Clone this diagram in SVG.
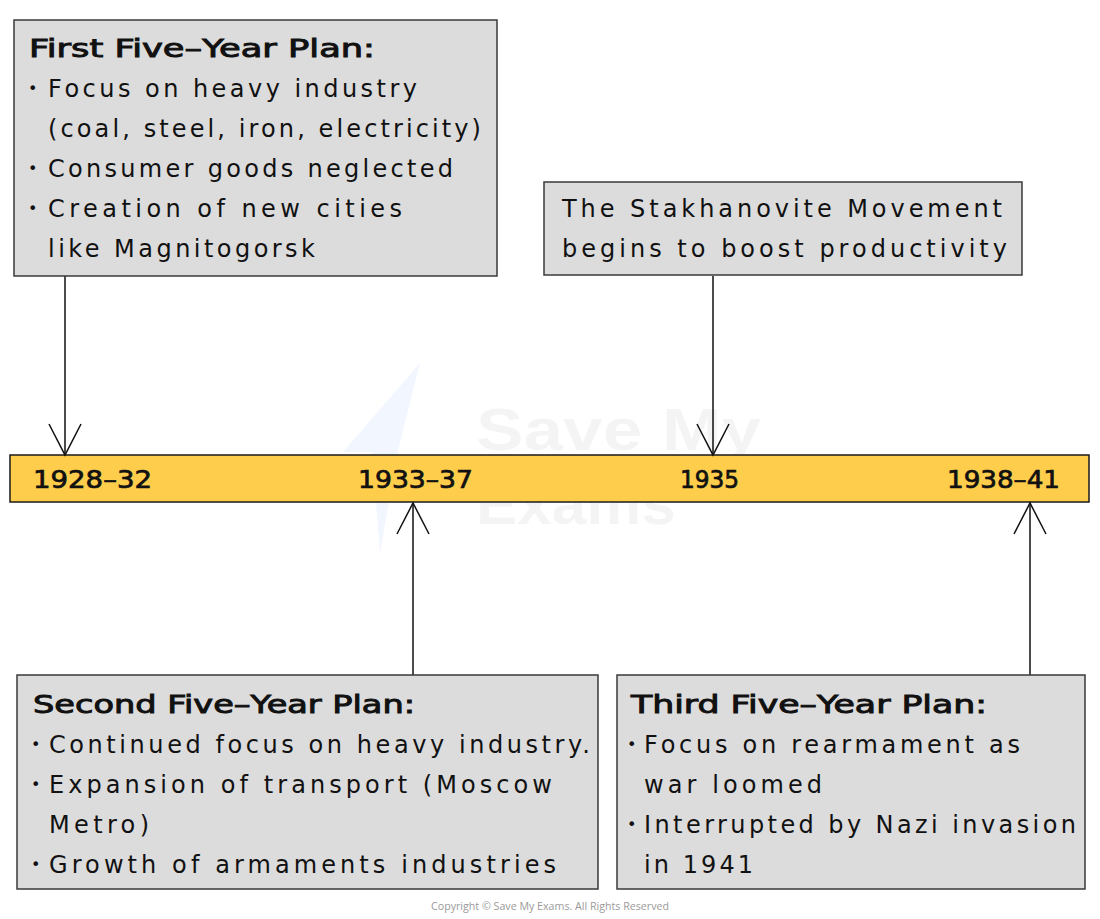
<svg xmlns="http://www.w3.org/2000/svg" width="1100" height="919" viewBox="0 0 1100 919">
<style>
.box{fill:#dcdcdc;stroke:#3a3a3a;stroke-width:1.5}
.bar{fill:#fdcd4b;stroke:#1a1a1a;stroke-width:1.5}
.t{font-family:"DejaVu Sans","Liberation Sans",Arial,sans-serif;font-size:24px;fill:#111}
.b{stroke:#111;stroke-width:0.9}
.bul{font-family:"DejaVu Sans","Liberation Sans",Arial,sans-serif;font-size:16px;fill:#111}
.yr{font-family:"DejaVu Sans","Liberation Sans",Arial,sans-serif;font-size:24px;fill:#111;stroke:#111;stroke-width:0.7}
.con{stroke:#111;stroke-width:1.5;fill:none}
.wm{font-family:"Liberation Sans",Arial,sans-serif;font-weight:bold;font-size:60px;fill:#000;fill-opacity:0.045}
.copy{font-family:"Open Sans","Liberation Sans",sans-serif;font-size:10px;fill:#9a9a9a}
</style>
<defs>
<marker id="ah" markerUnits="userSpaceOnUse" markerWidth="34" markerHeight="36" refX="32" refY="17" orient="auto">
<path d="M1,1 L32,17 L1,33" fill="none" stroke="#111" stroke-width="1.5"/>
</marker>
</defs>
<rect width="1100" height="919" fill="#ffffff"/>

<g id="watermark">
<polygon points="420,363 343,452 372,452 380,553 398,450" fill="#e8f0ff" fill-opacity="0.6"/>
<text class="wm" x="476" y="450" textLength="285" lengthAdjust="spacingAndGlyphs">Save My</text>
<text class="wm" x="476" y="524" textLength="200" lengthAdjust="spacingAndGlyphs">Exams</text>
</g>

<g id="timeline">
<rect class="bar" x="10" y="455" width="1079" height="47"/>
<text class="yr" x="33" y="488" textLength="119" lengthAdjust="spacingAndGlyphs">1928–32</text>
<text class="yr" x="358" y="488" textLength="115" lengthAdjust="spacingAndGlyphs">1933–37</text>
<text class="yr" x="680" y="488" textLength="59" lengthAdjust="spacingAndGlyphs">1935</text>
<text class="yr" x="947" y="488" textLength="113" lengthAdjust="spacingAndGlyphs">1938–41</text>
</g>

<g id="connectors">
<line class="con" x1="65" y1="276" x2="65" y2="455" marker-end="url(#ah)"/>
<line class="con" x1="713" y1="276" x2="713" y2="455" marker-end="url(#ah)"/>
<line class="con" x1="413" y1="675" x2="413" y2="503" marker-end="url(#ah)"/>
<line class="con" x1="1030" y1="675" x2="1030" y2="503" marker-end="url(#ah)"/>
</g>

<g id="first-plan">
<rect class="box" x="14" y="20" width="483" height="256"/>
<text class="t b" x="29" y="57" textLength="346" lengthAdjust="spacingAndGlyphs">First Five–Year Plan:</text>
<text class="bul" x="28" y="94">•</text>
<text class="t" x="48" y="97" textLength="369" lengthAdjust="spacing">Focus on heavy industry</text>
<text class="t" x="48" y="137" textLength="433" lengthAdjust="spacing">(coal, steel, iron, electricity)</text>
<text class="bul" x="28" y="174">•</text>
<text class="t" x="48" y="177" textLength="405" lengthAdjust="spacing">Consumer goods neglected</text>
<text class="bul" x="28" y="214">•</text>
<text class="t" x="48" y="217" textLength="354" lengthAdjust="spacing">Creation of new cities</text>
<text class="t" x="48" y="257" textLength="267" lengthAdjust="spacing">like Magnitogorsk</text>
</g>

<g id="stakhanovite">
<rect class="box" x="544" y="182" width="478" height="93"/>
<text class="t" x="562" y="217" textLength="440" lengthAdjust="spacing">The Stakhanovite Movement</text>
<text class="t" x="562" y="257" textLength="445" lengthAdjust="spacing">begins to boost productivity</text>
</g>

<g id="second-plan">
<rect class="box" x="17" y="675" width="581" height="214"/>
<text class="t b" x="33" y="713" textLength="382" lengthAdjust="spacingAndGlyphs">Second Five–Year Plan:</text>
<text class="bul" x="31" y="750">•</text>
<text class="t" x="49" y="753" textLength="541" lengthAdjust="spacing">Continued focus on heavy industry.</text>
<text class="bul" x="31" y="790">•</text>
<text class="t" x="49" y="793" textLength="503" lengthAdjust="spacing">Expansion of transport (Moscow</text>
<text class="t" x="49" y="833" textLength="100" lengthAdjust="spacing">Metro)</text>
<text class="bul" x="31" y="870">•</text>
<text class="t" x="49" y="873" textLength="507" lengthAdjust="spacing">Growth of armaments industries</text>
</g>

<g id="third-plan">
<rect class="box" x="617" y="675" width="468" height="214"/>
<text class="t b" x="631" y="713" textLength="356" lengthAdjust="spacingAndGlyphs">Third Five–Year Plan:</text>
<text class="bul" x="627" y="750">•</text>
<text class="t" x="644" y="753" textLength="376" lengthAdjust="spacing">Focus on rearmament as</text>
<text class="t" x="644" y="793" textLength="178" lengthAdjust="spacing">war loomed</text>
<text class="bul" x="627" y="830">•</text>
<text class="t" x="644" y="833" textLength="432" lengthAdjust="spacing">Interrupted by Nazi invasion</text>
<text class="t" x="644" y="873" textLength="109" lengthAdjust="spacing">in 1941</text>
</g>

<text class="copy" x="431" y="910" textLength="238" lengthAdjust="spacingAndGlyphs">Copyright © Save My Exams. All Rights Reserved</text>
</svg>
